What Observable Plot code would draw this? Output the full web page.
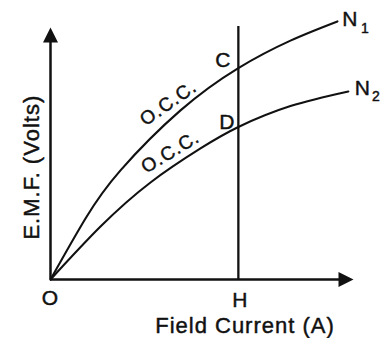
<!DOCTYPE html>
<html>
<head>
<meta charset="utf-8">
<script src="https://cdn.jsdelivr.net/npm/d3@7"></script>
<script src="https://cdn.jsdelivr.net/npm/@observablehq/plot@0.6"></script>
<style>
  html, body { margin: 0; padding: 0; background: #fff; }
  svg text { letter-spacing: 1px; }
</style>
</head>
<body>
<div id="chart"></div>
<script>
// Field current (x) and EMF (y) readings for the two speeds
const fieldCurrentN1 = [0, 1.155, 2.31, 4.29, 6.2, 7.92, 9.47];
const emfN1          = [0, 2.42, 4.33, 6.71, 8.39, 9.48, 10.24];
const fieldCurrentN2 = [0, 1.65, 3.30, 4.95, 6.2, 7.92, 9.83];
const emfN2          = [0, 2.10, 3.85, 5.20, 6.05, 6.88, 7.46];
const speedNames = ["N", "N"];
const speedSubs = ["1", "2"];
const curveLabel = "O.C.C.";
const pointNames = ["C", "D"];
const originLabel = "O";
const hLabel = "H";
const hValue = 6.2;          // field current at H
const axisMax = [10, 10];    // arrow tips (x, y)
const xTitle = "Field Current (A)";
const yTitle = "E.M.F. (Volts)";

const n1 = fieldCurrentN1.map((x, i) => ({x, y: emfN1[i]}));
const n2 = fieldCurrentN2.map((x, i) => ({x, y: emfN2[i]}));
const atH = [n1.find(d => d.x === hValue), n2.find(d => d.x === hValue)];
const ends = [n1[n1.length - 1], n2[n2.length - 1]];

const arrowRight = {draw(ctx) { ctx.moveTo(0, 0); ctx.lineTo(-15, -7.5); ctx.lineTo(-15, 7.5); ctx.closePath(); }};
const arrowUp = {draw(ctx) { ctx.moveTo(0, 0); ctx.lineTo(-7.5, 15); ctx.lineTo(7.5, 15); ctx.closePath(); }};
const ink = "#111";
const font = "'Liberation Sans', Arial, sans-serif";
const txt = {fill: ink, stroke: ink, strokeWidth: 0.45};

const chart = Plot.plot({
  width: 389,
  height: 338,
  marginLeft: 50,
  marginRight: 36,
  marginTop: 14.4,
  marginBottom: 59,
  x: {domain: [0, 10], axis: null},
  y: {domain: [0, 10.5], axis: null},
  style: {fontFamily: font, background: "white", color: ink},
  marks: [
    Plot.ruleY([0], {x1: 0, x2: axisMax[0] - 0.4, stroke: ink, strokeWidth: 2.5}),
    Plot.ruleX([0], {y1: 0, y2: axisMax[1] - 0.4, stroke: ink, strokeWidth: 2.5}),
    Plot.dot([{x: axisMax[0], y: 0}], {x: "x", y: "y", symbol: arrowRight, fill: ink, stroke: null}),
    Plot.dot([{x: 0, y: axisMax[1]}], {x: "x", y: "y", symbol: arrowUp, fill: ink, stroke: null}),
    Plot.ruleX([hValue], {y1: 0, y2: 10.04, stroke: ink, strokeWidth: 2.3}),
    Plot.line(n1, {x: "x", y: "y", curve: "natural", stroke: ink, strokeWidth: 2.1}),
    Plot.line(n2, {x: "x", y: "y", curve: "natural", stroke: ink, strokeWidth: 2.1}),
    // labels
    Plot.text([originLabel], {x: () => 0, y: () => 0, text: d => d, dy: 19, fontSize: 21, ...txt}),
    Plot.text([hLabel], {x: () => hValue, y: () => 0, text: d => d, dx: 2, dy: 21, fontSize: 21, ...txt}),
    Plot.text([pointNames[0]], {x: () => atH[0].x, y: () => atH[0].y, text: d => d, dx: -15, dy: -8, fontSize: 21, ...txt}),
    Plot.text([pointNames[1]], {x: () => atH[1].x, y: () => atH[1].y, text: d => d, dx: -11, dy: -5, fontSize: 21, ...txt}),
    Plot.text([speedNames[0]], {x: () => ends[0].x, y: () => ends[0].y, text: d => d, dx: 13, dy: -2.5, fontSize: 21, ...txt}),
    Plot.text([speedSubs[0]], {x: () => ends[0].x, y: () => ends[0].y, text: d => d, dx: 28, dy: 7, fontSize: 14, ...txt}),
    Plot.text([speedNames[1]], {x: () => ends[1].x, y: () => ends[1].y, text: d => d, dx: 14.5, dy: -3.5, fontSize: 21, ...txt}),
    Plot.text([speedSubs[1]], {x: () => ends[1].x, y: () => ends[1].y, text: d => d, dx: 28, dy: 5, fontSize: 14, ...txt}),
    Plot.text([curveLabel], {x: () => atH[0].x, y: () => atH[0].y, text: d => d, dx: -70, dy: 35, rotate: -35, fontSize: 19, ...txt}),
    Plot.text([curveLabel], {x: () => atH[1].x, y: () => atH[1].y, text: d => d, dx: -68, dy: 25, rotate: -31, fontSize: 19, ...txt}),
    Plot.text([xTitle], {frameAnchor: "bottom", lineAnchor: "middle", textAnchor: "middle", text: d => d, dx: 43, dy: 46, fontSize: 22, ...txt}),
    Plot.text([yTitle], {frameAnchor: "left", lineAnchor: "middle", textAnchor: "middle", text: d => d, dx: -19, dy: 20, rotate: -90, fontSize: 22, ...txt})
  ]
});
document.getElementById("chart").appendChild(chart);
</script>
</body>
</html>
